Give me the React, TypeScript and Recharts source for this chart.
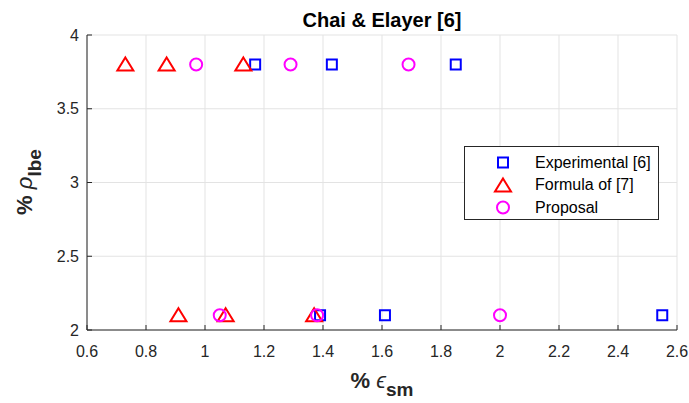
import React from 'react';
import {
    ScatterChart, Scatter, XAxis, YAxis, CartesianGrid
} from 'recharts';

// values (x = % eps_sm, y = % rho_lbe)
const experimental = [
    { x: 1.17, y: 3.8 }, { x: 1.43, y: 3.8 }, { x: 1.85, y: 3.8 },
    { x: 1.39, y: 2.1 }, { x: 1.61, y: 2.1 }, { x: 2.55, y: 2.1 },
];
const formula7 = [
    { x: 0.73, y: 3.8 }, { x: 0.87, y: 3.8 }, { x: 1.13, y: 3.8 },
    { x: 0.91, y: 2.1 }, { x: 1.07, y: 2.1 }, { x: 1.37, y: 2.1 },
];
const proposal = [
    { x: 0.97, y: 3.8 }, { x: 1.29, y: 3.8 }, { x: 1.69, y: 3.8 },
    { x: 1.05, y: 2.1 }, { x: 1.38, y: 2.1 }, { x: 2.0, y: 2.1 },
];
const xTicks = [0.6, 0.8, 1, 1.2, 1.4, 1.6, 1.8, 2, 2.2, 2.4, 2.6];
const yTicks = [2, 2.5, 3, 3.5, 4];

const AXIS = '#262626';
const FONT = '"Liberation Sans", Arial, Helvetica, sans-serif';

const Square = ({ cx, cy }: any) => (
    <rect x={cx - 5} y={cy - 5} width={10} height={10} fill="none" stroke="#0000ff" strokeWidth={2} />
);
const Triangle = ({ cx, cy }: any) => (
    <path d={`M${cx},${cy - 7} L${cx + 8},${cy + 6} L${cx - 8},${cy + 6} Z`} fill="none" stroke="#ff0000" strokeWidth={2} />
);
const Circle = ({ cx, cy }: any) => (
    <circle cx={cx} cy={cy} r={6} fill="none" stroke="#ff00ff" strokeWidth={2} />
);

const tickStyle = { fontSize: 16, fill: AXIS, fontFamily: FONT };
const hiddenTick = { fill: 'transparent', fontSize: 1 };

const legendRows = [
    { name: 'Experimental [6]', Shape: Square },
    { name: 'Formula of [7]', Shape: Triangle },
    { name: 'Proposal', Shape: Circle },
];

const App: React.FC = () => {
    return (
        <div style={{ position: 'absolute', left: 0, top: 0, width: 689, height: 403, background: '#fff', fontFamily: FONT }}>
            <ScatterChart width={689} height={403} margin={{ top: 35, right: 12, left: 37, bottom: 43 }}>
                <CartesianGrid stroke="#e3e3e3" strokeWidth={1} />
                <XAxis
                    type="number" dataKey="x" domain={[0.6, 2.6]} ticks={xTicks}
                    allowDataOverflow height={30}
                    stroke={AXIS} tickSize={-5} tickMargin={21}
                    tick={tickStyle}
                />
                <XAxis
                    xAxisId="top" orientation="top" type="number" domain={[0.6, 2.6]} ticks={xTicks}
                    allowDataOverflow height={0} stroke={AXIS} tickSize={-5} tick={hiddenTick}
                />
                <YAxis
                    type="number" dataKey="y" domain={[2, 4]} ticks={yTicks}
                    allowDataOverflow width={50}
                    stroke={AXIS} tickSize={-5} tickMargin={13}
                    tick={tickStyle}
                />
                <YAxis
                    yAxisId="right" orientation="right" type="number" domain={[2, 4]} ticks={yTicks}
                    allowDataOverflow width={0} stroke={AXIS} tickSize={-5} tick={hiddenTick}
                />
                <Scatter name="Experimental [6]" data={experimental} shape={<Square />} isAnimationActive={false} />
                <Scatter name="Formula of [7]" data={formula7} shape={<Triangle />} isAnimationActive={false} />
                <Scatter name="Proposal" data={proposal} shape={<Circle />} isAnimationActive={false} />
            </ScatterChart>

            {/* title and axis labels */}
            <svg width={689} height={403} style={{ position: 'absolute', left: 0, top: 0, pointerEvents: 'none' }}>
                <text x={382} y={27} textAnchor="middle" fontSize={20} fontWeight="bold" fill="#000" fontFamily={FONT}>
                    Chai &amp; Elayer [6]
                </text>
                <text x={382} y={388} textAnchor="middle" fontSize={22} fontWeight="bold" fill={AXIS} fontFamily={FONT}>
                    %{' '}
                    <tspan fontStyle="italic" fontWeight="normal">ϵ</tspan>
                    <tspan dy={8} fontSize={19}>sm</tspan>
                </text>
                <text transform="translate(32,182) rotate(-90)" textAnchor="middle" fontSize={22} fontWeight="bold" fill={AXIS} fontFamily={FONT}>
                    %{' '}
                    <tspan fontStyle="italic" fontWeight="normal">ρ</tspan>
                    <tspan dy={9} fontSize={19}>lbe</tspan>
                </text>
            </svg>

            {/* legend box */}
            <div style={{
                position: 'absolute', left: 464, top: 146, width: 193, height: 72,
                border: `1px solid ${AXIS}`, background: '#fff',
            }}>
                {legendRows.map((r, i) => (
                    <div key={r.name} style={{ position: 'absolute', left: 0, top: 4 + i * 22.5, height: 23, display: 'flex', alignItems: 'center' }}>
                        <svg width={70} height={23}>
                            <r.Shape cx={38} cy={11.5} />
                        </svg>
                        <span style={{ fontSize: 16, color: '#000', whiteSpace: 'nowrap' }}>{r.name}</span>
                    </div>
                ))}
            </div>
        </div>
    );
};

export default App;
